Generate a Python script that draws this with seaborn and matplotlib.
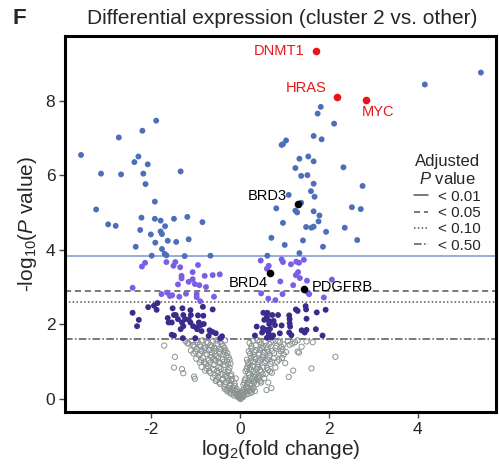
import matplotlib
matplotlib.use("Agg")
import matplotlib.pyplot as plt
import seaborn as sns
import pandas as pd
from matplotlib.lines import Line2D

# ---------------- data ----------------
# significant genes (log2 fold change, -log10 P)
sig_lfc = [-1.88, -2.19, -2.72, -3.57, -2.28, -2.37, -2.07, -3.12, -2.67, -2.17, -1.33, -2.12,
           -1.91, -3.23, -2.21, -1.91, -1.78, -1.48, -1.18, -0.84, -2.96, -2.79, -1.68, -2.24,
           -2.00, -1.78, -1.75, -1.62, -1.43, -1.15, -1.90, -2.34, -1.75, -1.69, -1.65, -1.98,
           -1.24, -0.66,
           5.42, 4.16, 1.82, 1.75, 2.12, 1.66, 1.84, 1.04, 0.94, 0.97, 1.34, 1.54, 1.66, 1.25,
           2.33, 1.38, 1.52, 1.66, 2.76, 1.10, 1.60, 1.68, 1.38, 1.25, 1.29, 0.82, 1.66, 1.79,
           2.52, 2.72, 1.77, 0.97, 1.49, 1.61, 1.66, 1.94, 2.36, 0.71, 1.42, 2.64, 1.01, 1.87,
           1.34, 0.62,
           -2.13, -2.20, -1.65, -1.45, -1.49, -1.34, -0.94, -1.31, -1.31, -1.06, -1.06, -1.15,
           -1.01, -0.91, -1.39, -0.79, -0.61, -0.45, -0.76, -2.41, -1.63, -1.76, -1.57, -1.52,
           -1.36, -1.21, -0.97, -0.97, -0.58, -0.89,
           0.47, 0.94, 0.97, 1.15, 1.27, 1.33, 1.44, 0.65, 0.61, 1.31, 1.26, 1.35, 0.91, 1.51,
           1.20, 2.07, 1.53, 1.56, 0.48, 0.96, 0.64, 0.80, 1.89,
           -1.85, -2.06, -1.93, -1.87, -2.41, -2.27, -2.31, -1.51, -1.29, -1.11, -1.48, -1.44,
           -1.27, -1.10, -0.94, -1.62, -1.39, -1.23, -1.15, -1.60, -1.53, -1.30, -1.11, -0.92,
           -0.82, -0.61, -0.83, -1.27, -1.05, -0.97, -0.88, -0.81, -1.33, -0.96, -0.86, -1.53,
           -1.48, -1.28, -1.00, -0.68, -0.62, -0.54, -0.70, -0.44, -0.40,
           0.53, 0.62, 0.73, 0.61, 0.86, 1.11, 1.12, 1.30, 1.49, 1.50, 1.73, 1.93, 0.55, 0.66,
           0.76, 0.66, 0.79, 0.38, 0.52, 0.60, 0.68, 0.94, 1.12, 1.13, 1.39, 1.50, 1.71, 0.50,
           0.65, 0.75, 0.71, 0.34, 0.61, 0.65, 0.90, 1.11, 1.16, 1.86, 1.46, 1.26, 1.48]
sig_logp = [7.46, 7.19, 7.01, 6.54, 6.50, 6.35, 6.29, 6.04, 6.02, 6.04, 6.10, 5.76,
            5.29, 5.08, 4.86, 4.83, 4.78, 4.83, 4.88, 4.74, 4.68, 4.64, 4.63, 4.53,
            4.41, 4.49, 4.42, 4.24, 4.21, 4.28, 4.19, 4.08, 4.02, 3.89, 3.85, 3.84,
            3.83, 3.84,
            8.75, 8.43, 7.83, 7.65, 7.38, 7.05, 6.96, 6.93, 6.81, 6.83, 6.44, 6.50, 6.37, 6.19,
            6.21, 5.98, 6.00, 5.77, 5.71, 5.47, 5.57, 5.42, 5.26, 5.05, 5.00, 5.11, 5.03, 4.92,
            5.14, 5.09, 4.76, 4.72, 4.61, 4.59, 4.62, 4.48, 4.59, 4.32, 4.25, 4.26, 4.13, 4.08,
            3.91, 3.84,
            3.65, 3.55, 3.67, 3.67, 3.57, 3.53, 3.59, 3.30, 3.23, 3.40, 3.21, 3.14,
            3.08, 3.05, 3.07, 3.30, 3.32, 3.34, 3.00, 2.98, 2.85, 2.81, 2.76, 2.78,
            2.74, 2.82, 2.81, 2.73, 2.74, 2.62,
            3.71, 3.74, 3.67, 3.61, 3.68, 3.65, 3.73, 3.57, 3.49, 3.40, 3.32, 3.24, 3.15, 3.17,
            3.05, 3.20, 2.85, 2.81, 2.83, 2.81, 2.69, 2.65, 2.72,
            2.57, 2.46, 2.50, 2.39, 2.31, 2.12, 1.95, 2.43, 2.43, 2.38, 2.25, 2.25,
            2.25, 2.25, 2.24, 2.17, 2.14, 2.14, 2.13, 2.05, 2.05, 2.05, 2.05, 2.05,
            2.23, 2.40, 2.47, 1.95, 1.95, 1.92, 1.98, 2.01, 1.87, 1.87, 1.82, 1.72,
            1.70, 1.63, 1.63, 1.84, 1.80, 1.76, 1.69, 1.63, 1.68,
            2.31, 2.31, 2.25, 2.21, 2.25, 2.24, 2.14, 2.36, 2.40, 2.15, 2.32, 2.39, 2.12, 2.09,
            2.09, 2.01, 1.98, 1.94, 1.90, 1.85, 1.88, 1.97, 2.03, 1.94, 1.84, 1.85, 1.87, 1.78,
            1.76, 1.70, 1.65, 1.70, 1.64, 1.60, 1.76, 1.78, 1.71, 1.70, 1.78, 2.40, 2.49]

# non-significant genes (open grey circles)
gray_lfc = [-1.70, -1.22, -1.15, -1.08, -1.02, -0.95, -0.90, -0.84, -0.78, -0.72, -0.66, -0.60, -0.55,
            -0.50, -0.44, -0.38, -0.33, 0.22, 0.30, 0.36, 0.44, 0.52, 0.58, 0.66, 0.74, 0.82, 0.90,
            0.98, 1.08, 1.18, 1.30, 1.39, 1.50, 1.64,
            -1.46, -1.10, -1.04, -0.97, -0.92, -0.86, -0.80, -0.74, -0.69, -0.63, -0.58, -0.52, -0.47,
            -0.42, -0.37, -0.32, -0.28, 0.20, 0.26, 0.31, 0.37, 0.43, 0.49, 0.55, 0.61, 0.67, 0.73,
            0.80, 0.88, 0.96, 1.04, 1.30, 1.33, 2.15,
            -0.98, -0.90, -0.83, -0.76, -0.70, -0.64, -0.59, -0.54, -0.49, -0.44, -0.39, -0.34, -0.29,
            -0.25, -0.21, 0.16, 0.21, 0.26, 0.30, 0.35, 0.40, 0.45, 0.51, 0.56, 0.62, 0.69, 0.76,
            0.84, 0.95, 1.02,
            -1.48, -1.30, -1.27, -0.86, -0.78, -0.72, -0.66, -0.61, -0.56, -0.51, -0.46, -0.41, -0.36,
            -0.31, -0.27, -0.23, -0.19, 0.13, 0.17, 0.21, 0.25, 0.29, 0.33, 0.38, 0.43, 0.48, 0.53,
            0.58, 0.64, 0.72, 0.80, 1.10, 1.20, 1.61,
            -1.03, -1.01, -0.60, -0.54, -0.49, -0.44, -0.40, -0.35, -0.31, -0.27, -0.23, -0.19, -0.15,
            -0.12, -0.09, 0.08, 0.11, 0.14, 0.18, 0.22, 0.26, 0.30, 0.34, 0.38, 0.43, 0.48, 0.55,
            0.64, 0.60, 0.71,
            -0.34, -0.28, -0.24, -0.20, -0.16, -0.13, -0.10, -0.07, -0.05, -0.03, -0.01, 0.01,
            0.03, 0.05, 0.07, 0.09, 0.12, 0.15, 0.18, 0.21, 0.25, 0.29, 0.34, 0.02, -0.02, 0.04,
            -1.18, -1.05, -0.98, -0.88, -0.75, -0.63, -0.52, -0.41, -0.35,
            0.26, 0.40, 0.48, 0.62, 0.70, 0.86, 0.94, 1.12, 1.24,
            -1.00, -0.89, -0.77, -0.66, -0.55, -0.45, -0.35, -0.30,
            0.23, 0.33, 0.46, 0.52, 0.64, 0.77, 0.92, 0.99,
            -0.87, -0.80, -0.67, -0.57, -0.47, -0.36, -0.27, -0.23,
            0.18, 0.24, 0.33, 0.42, 0.48, 0.59, 0.66, 0.72, 0.88,
            -0.75, -0.69, -0.58, -0.49, -0.43, -0.34, -0.25, -0.21,
            0.15, 0.19, 0.23, 0.31, 0.36, 0.41, 0.46, 0.51, 0.61, 0.68,
            -0.52, -0.46, -0.38, -0.33, -0.25, -0.21, -0.17, -0.11,
            0.10, 0.13, 0.16, 0.20, 0.24, 0.28, 0.32, 0.36, 0.41, 0.46,
            -0.30, -0.22, -0.18, -0.14, -0.11, -0.08, -0.06, -0.04,
            0.00, 0.02, 0.06, 0.08, 0.10, 0.13, 0.16, 0.19, 0.23, 0.27, 0.31]
gray_logp = [1.43, 1.55, 1.48, 1.56, 1.40, 1.52, 1.45, 1.57, 1.38, 1.50, 1.44, 1.56, 1.35,
             1.48, 1.53, 1.42, 1.57, 1.50, 1.56, 1.44, 1.53, 1.40, 1.55, 1.47, 1.57, 1.42, 1.52,
             1.46, 1.55, 1.48, 1.57, 1.40, 1.54, 1.52,
             1.13, 1.30, 1.22, 1.34, 1.18, 1.28, 1.36, 1.20, 1.31, 1.24, 1.37, 1.15, 1.27,
             1.33, 1.19, 1.30, 1.23, 1.28, 1.35, 1.18, 1.30, 1.22, 1.36, 1.25, 1.32, 1.17, 1.29,
             1.37, 1.21, 1.33, 1.26, 1.27, 1.24, 1.13,
             1.08, 0.98, 1.10, 0.94, 1.04, 1.12, 0.92, 1.02, 1.10, 0.96, 1.06, 0.91, 1.01,
             1.12, 0.95, 1.05, 0.93, 1.11, 0.99, 1.07, 0.92, 1.03, 1.12, 0.97, 1.06, 0.94, 1.09,
             1.00, 1.10, 0.96,
             0.84, 0.80, 0.69, 0.86, 0.76, 0.88, 0.70, 0.81, 0.64, 0.75, 0.86, 0.67, 0.78,
             0.62, 0.72, 0.84, 0.66, 0.74, 0.86, 0.65, 0.78, 0.88, 0.68, 0.81, 0.62, 0.73, 0.85,
             0.67, 0.78, 0.70, 0.84, 0.59, 0.76, 0.82,
             0.60, 0.54, 0.57, 0.48, 0.58, 0.40, 0.51, 0.33, 0.45, 0.56, 0.37, 0.49, 0.31,
             0.42, 0.55, 0.38, 0.50, 0.33, 0.45, 0.57, 0.36, 0.48, 0.59, 0.40, 0.52, 0.44, 0.56,
             0.44, 0.24, 0.29,
             0.27, 0.20, 0.29, 0.14, 0.23, 0.09, 0.18, 0.27, 0.06, 0.13, 0.02, 0.08,
             0.16, 0.04, 0.24, 0.11, 0.19, 0.28, 0.13, 0.22, 0.16, 0.27, 0.21, 0.00, 0.05, 0.10,
             1.50, 1.44, 1.58, 1.40, 1.53, 1.40, 1.57, 1.47, 1.37,
             1.42, 1.58, 1.46, 1.38, 1.52, 1.56, 1.39, 1.45, 1.52,
             1.27, 1.21, 1.30, 1.18, 1.28, 1.21, 1.27, 1.16,
             1.21, 1.26, 1.31, 1.17, 1.27, 1.23, 1.28, 1.19,
             1.04, 0.99, 0.97, 1.08, 0.99, 1.00, 0.94, 1.05,
             0.98, 1.02, 1.12, 0.98, 1.08, 1.01, 1.11, 1.00, 1.05,
             0.82, 0.74, 0.78, 0.69, 0.80, 0.71, 0.77, 0.62,
             0.80, 0.70, 0.84, 0.75, 0.64, 0.86, 0.78, 0.66, 0.83, 0.74,
             0.52, 0.44, 0.55, 0.39, 0.48, 0.41, 0.53, 0.35,
             0.43, 0.55, 0.40, 0.51, 0.42, 0.54, 0.44, 0.50, 0.57, 0.48,
             0.25, 0.18, 0.26, 0.15, 0.24, 0.12, 0.20, 0.09,
             0.04, 0.12, 0.18, 0.06, 0.25, 0.12, 0.21, 0.29, 0.25, 0.20, 0.30]

# highlighted genes
red_genes = ["DNMT1", "HRAS", "MYC"]
red_lfc = [1.71, 2.18, 2.83]
red_logp = [9.33, 8.10, 8.02]
black_genes = ["BRD3", "BRD4", "PDGFRB"]
black_lfc = [1.30, 0.67, 1.44]
black_logp = [5.23, 3.38, 2.95]

# adjusted-P thresholds on the -log10(P) scale
thr_labels = ["< 0.01", "< 0.05", "< 0.10", "< 0.50"]
thr_values = [3.83, 2.90, 2.60, 1.61]

x_ticks = [-2, 0, 2, 4]
y_ticks = [0, 2, 4, 6, 8]

# ---------------- style ----------------
sns.set_theme(style="white")
plt.rcParams['font.family'] = ['Liberation Sans', 'DejaVu Sans']
plt.rcParams['mathtext.fontset'] = 'custom'
plt.rcParams['mathtext.rm'] = 'Liberation Sans'
plt.rcParams['mathtext.it'] = 'Liberation Sans:italic'
plt.rcParams['axes.unicode_minus'] = False

fig = plt.figure(figsize=(4.99, 4.75), dpi=100)
ax = fig.add_axes([65 / 499, 63 / 475, 431 / 499, 376 / 475])

# threshold lines
line_styles = ['-', (0, (4, 2.5)), (0, (1, 1.5)), (0, (5, 1.5, 1, 1.5))]
line_colors = ['#7a97cf', '#555555', '#555555', '#555555']
for v, ls, c in zip(thr_values, line_styles, line_colors):
    ax.axhline(v, color=c, ls=ls, lw=1.1, zorder=1)

# grey non-significant points
sns.scatterplot(x=gray_lfc, y=gray_logp, ax=ax, s=14, marker='o',
                facecolor='none', edgecolor='#8a9292', linewidth=0.7, zorder=2, legend=False)

# significant points coloured by level
sig = pd.DataFrame({"lfc": sig_lfc, "logp": sig_logp})
sig["level"] = pd.cut(sig["logp"], bins=[thr_values[3], thr_values[2], thr_values[0], 20],
                      labels=["dark", "mid", "top"], right=False)
palette = {"top": "#4d6fb8", "mid": "#7a5ee6", "dark": "#3b2b8c"}
sns.scatterplot(data=sig, x="lfc", y="logp", hue="level", palette=palette, s=18,
                linewidth=0, ax=ax, zorder=3, legend=False)

# highlighted genes
sns.scatterplot(x=red_lfc, y=red_logp, color='#e8161b', s=30, linewidth=0, ax=ax, zorder=4)
sns.scatterplot(x=black_lfc, y=black_logp, color='black', s=30, linewidth=0, ax=ax, zorder=4)

lab_kw = dict(fontsize=10.5, va='center', zorder=5)
ax.text(red_lfc[0] - 0.25, red_logp[0], red_genes[0], color='#e8161b', ha='right', **lab_kw)
ax.text(red_lfc[1] - 0.22, red_logp[1] + 0.24, red_genes[1], color='#e8161b', ha='right', **lab_kw)
ax.text(red_lfc[2] - 0.09, red_logp[2] - 0.33, red_genes[2], color='#e8161b', ha='left', **lab_kw)
ax.text(black_lfc[0] - 0.24, black_logp[0] + 0.21, black_genes[0], color='black', ha='right', **lab_kw)
ax.text(black_lfc[1] - 0.04, black_logp[1] - 0.27, black_genes[1], color='black', ha='right', **lab_kw)
ax.text(black_lfc[2] + 0.18, black_logp[2] + 0.05, black_genes[2], color='black', ha='left', **lab_kw)

# axes
ax.set_xlim(-3.93, 5.76)
ax.set_ylim(-0.35, 9.73)
ax.set_xticks(x_ticks)
ax.set_yticks(y_ticks)
ax.tick_params(bottom=True, left=True, direction='out', length=4, width=1,
               color='#444444', labelsize=12.5, pad=3)
for sp in ax.spines.values():
    sp.set_linewidth(2.2)
    sp.set_color('black')
ax.set_xlabel("log$_2$(fold change)", fontsize=15, labelpad=1)
ax.set_ylabel("-log$_{10}$($\\it{P}$ value)", fontsize=15, labelpad=5)

# legend
handles = [Line2D([], [], color='#555555', lw=1.1, ls=ls) for ls in line_styles]
leg = ax.legend(handles, thr_labels, title="Adjusted\n$\\it{P}$ value", frameon=False,
                loc='upper right', bbox_to_anchor=(0.99, 0.715), fontsize=11,
                title_fontsize=12, handlelength=0.9, handletextpad=0.7, labelspacing=0.15,
                borderpad=0.2)
leg.get_title().set_multialignment('center')

fig.text(282 / 499, 1 - 18 / 475, "Differential expression (cluster 2 vs. other)",
         ha='center', va='center', fontsize=15)
fig.text(12 / 499, 1 - 18 / 475, "F", ha='left', va='center', fontsize=16, fontweight='bold')

fig.savefig("out.png", dpi=100)
